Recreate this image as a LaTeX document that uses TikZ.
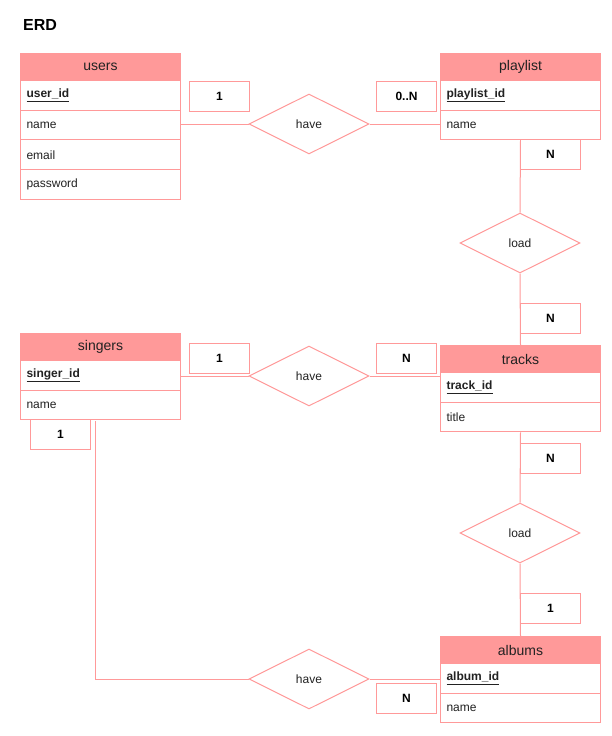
\documentclass[tikz,border=0pt]{standalone}
\usepackage{fontspec}
\setmainfont{Liberation Sans}
\usetikzlibrary{shapes.geometric}
\definecolor{erd}{HTML}{FF9999}
\definecolor{erdtxt}{HTML}{222222}
\begin{document}
\begin{tikzpicture}[x=1pt,y=-1pt,
  hdr/.style={draw=erd,fill=erd,line width=1pt,minimum width=160pt,minimum height=27pt,inner sep=0pt,font=\fontsize{14}{16}\selectfont,text=erdtxt,anchor=north west},
  attr/.style={draw=erd,fill=white,line width=1pt,minimum height=29.7pt,text width=148pt,inner xsep=6pt,inner ysep=0pt,align=left,font=\fontsize{12}{14}\selectfont,text=erdtxt,anchor=north west},
  card/.style={draw=erd,fill=white,line width=1pt,minimum width=60pt,minimum height=30pt,inner sep=0pt,font=\bfseries\fontsize{12}{14}\selectfont,anchor=north west},
  rel/.style={diamond,draw=erd,fill=white,line width=1pt,minimum width=120pt,minimum height=60pt,inner sep=0pt,font=\fontsize{12}{14}\selectfont,text=erdtxt},
  link/.style={draw=erd,line width=1pt}
]
\useasboundingbox (0,0) rectangle (611,736);
\node[anchor=west,inner sep=0pt,font=\bfseries\fontsize{16}{18}\selectfont] (title) at (23,25) {ERD};

\coordinate (sdown) at (95,421);

% users
\node[hdr] (uh) at (20,53) {users};
\node[attr] (uid) at (20,80) {\textbf{\underline{user\_id}}};
\node[attr] (uname) at (20,109.7) {name};
\node[attr] (uemail) at (20,139.4) {email};
\node[attr] (upass) at (20,169.1) {password};

% playlist
\node[hdr] (ph) at (440,53) {playlist};
\node[attr] (pid) at (440,80) {\textbf{\underline{playlist\_id}}};
\node[attr] (pname) at (440,109.7) {name};

% singers
\node[hdr] (sh) at (20,333) {singers};
\node[attr] (sid) at (20,360) {\textbf{\underline{singer\_id}}};
\node[attr] (sname) at (20,389.7) {name};

% tracks
\node[hdr] (th) at (440,345) {tracks};
\node[attr] (tid) at (440,372) {\textbf{\underline{track\_id}}};
\node[attr] (ttitle) at (440,401.7) {title};

% albums
\node[hdr] (ah) at (440,636) {albums};
\node[attr] (aid) at (440,663) {\textbf{\underline{album\_id}}};
\node[attr] (aname) at (440,692.7) {name};

% relationships
\node[rel] (have1) at (309,124) {have};
\node[rel] (load1) at (520,243) {load};
\node[rel] (have2) at (309,376) {have};
\node[rel] (load2) at (520,533) {load};
\node[rel] (have3) at (309,679) {have};

% connectors
\draw[link] (have1.west -| uname.east) -- (have1.west);
\draw[link] (have1.east) -- (have1.east -| pname.west);
\draw[link] (pname.south) -- (load1.north);
\draw[link] (load1.south) -- (th.north);
\draw[link] (have2.west -| sid.east) -- (have2.west);
\draw[link] (have2.east) -- (have2.east -| tid.west);
\draw[link] (ttitle.south) -- (load2.north);
\draw[link] (load2.south) -- (ah.north);
\draw[link] (sdown) |- (have3.west);
\draw[link] (have3.east) -- (have3.east -| aid.west);

% cardinalities
\node[card] (c1) at (189,81) {1};
\node[card] (c0n) at (376,81) {0..N};
\node[card] (cn1) at (520,139) {N};
\node[card] (cn2) at (520,303) {N};
\node[card] (c1b) at (189,343) {1};
\node[card] (cn3) at (376,343) {N};
\node[card] (c1c) at (30,419) {1};
\node[card] (cn4) at (520,443) {N};
\node[card] (c1d) at (520,593) {1};
\node[card] (cn5) at (376,683) {N};
\end{tikzpicture}
\end{document}
